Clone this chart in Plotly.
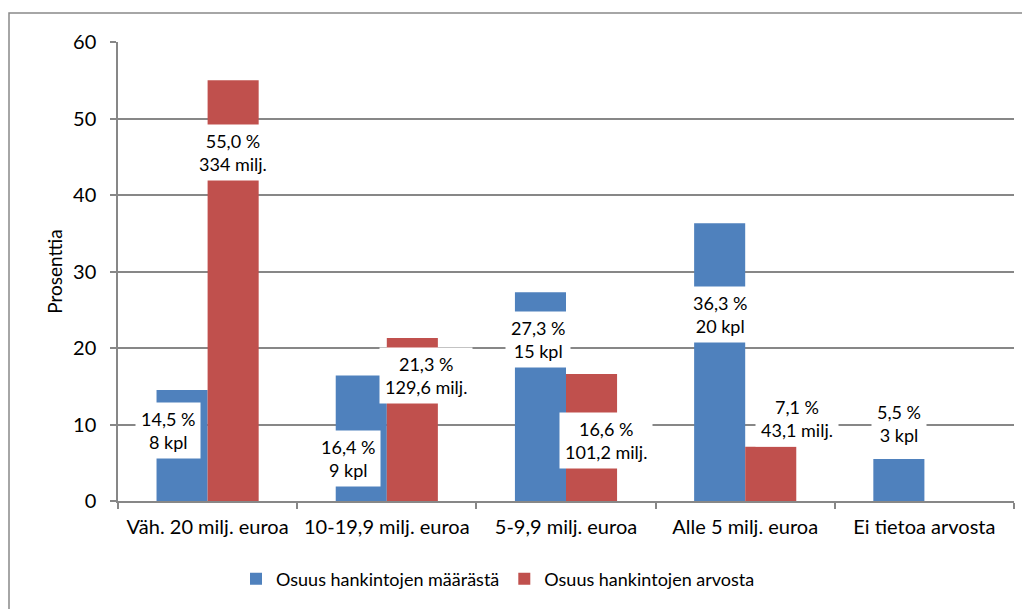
import plotly.graph_objects as go

categories = ["Väh. 20 milj. euroa", "10-19,9 milj. euroa", "5-9,9 milj. euroa",
              "Alle 5 milj. euroa", "Ei tietoa arvosta"]
count_share = [14.5, 16.4, 27.3, 36.3, 5.5]
value_share = [55.0, 21.3, 16.6, 7.1, None]
count_labels = ["14,5 %<br>8 kpl", "16,4 %<br>9 kpl", "27,3 %<br>15 kpl",
                "36,3 %<br>20 kpl", "5,5 %<br>3 kpl"]
value_labels = ["55,0 %<br>334 milj.", "21,3 %<br>129,6 milj.", "16,6 %<br>101,2 milj.",
                "7,1 %<br>43,1 milj.", None]
series_names = ["Osuus hankintojen määrästä", "Osuus hankintojen arvosta"]

# label placement (manually dragged in the original): y in data units, x shift in px
count_label_y = [9.28, 5.62, 21.05, 24.44, 10.07]
count_label_dx = [-14, -13, -2, 0, 0]
value_label_y = [45.62, 16.41, 7.97, 10.78, None]
value_label_dx = [0, 14, 14, 26, 0]

BLUE = "#4F81BD"
RED = "#C0504D"
GRID = "#878787"
FONT = "Lato"

OFF = 8  # page body margin
W, H = 1030 - OFF, 609 - OFF
L, R, T, B = 118 - OFF, 16, 42 - OFF, 108

fig = go.Figure()
fig.add_trace(go.Bar(x=categories, y=count_share, name=series_names[0],
                     marker=dict(color=BLUE, line=dict(width=0))))
fig.add_trace(go.Bar(x=categories, y=value_share, name=series_names[1],
                     marker=dict(color=RED, line=dict(width=0))))

bargap = 0.43
half = (1 - bargap) / 4  # center offset of each bar within group

annotations = []
for i in range(len(categories)):
    if count_labels[i]:
        annotations.append(dict(x=i - half, y=count_label_y[i], xref="x", yref="y",
                                text=count_labels[i], showarrow=False, xshift=count_label_dx[i],
                                bgcolor="white", borderpad=5,
                                font=dict(family=FONT, size=18, color="black")))
    if value_labels[i]:
        annotations.append(dict(x=i + half, y=value_label_y[i], xref="x", yref="y",
                                text=value_labels[i], showarrow=False, xshift=value_label_dx[i],
                                bgcolor="white", borderpad=5,
                                font=dict(family=FONT, size=18, color="black")))

pw = W - L - R
ph = H - T - B
frame = dict(type="rect", xref="paper", yref="paper",
             x0=(9 - OFF - L) / pw, x1=(W + 20 - L) / pw,
             y0=(H - B - (H + 20)) / ph, y1=(H - B - (13 - OFF)) / ph,
             line=dict(color="#898989", width=1.5), fillcolor="rgba(0,0,0,0)", layer="below")

# legend centre at page x ~ 498, y ~ 579
fig.update_layout(
    width=W, height=H,
    margin=dict(l=L, r=R, t=T, b=B, autoexpand=False),
    paper_bgcolor="white", plot_bgcolor="white",
    barmode="group", bargap=bargap, bargroupgap=0,
    font=dict(family=FONT, size=17, color="black"),
    showlegend=True,
    legend=dict(orientation="h", x=(498 - 118) / pw, xanchor="center",
                y=(501 - 579) / ph, yanchor="middle",
                font=dict(family=FONT, size=18, color="black"), itemwidth=30,
                bgcolor="rgba(0,0,0,0)"),
    xaxis=dict(showline=True, linecolor=GRID, linewidth=1.5, ticks="outside",
               tickson="boundaries", ticklen=6, tickcolor=GRID, tickwidth=1.5,
               ticklabelstandoff=7,
               showgrid=False, tickfont=dict(family=FONT, size=20, color="black")),
    yaxis=dict(range=[0, 60], dtick=10, showline=True, linecolor=GRID, linewidth=1.5,
               ticks="outside", ticklen=6, tickcolor=GRID, tickwidth=1.5,
               showgrid=True, gridcolor=GRID, gridwidth=1.5, zeroline=False,
               ticklabelstandoff=10,
               tickfont=dict(family=FONT, size=20, color="black"),
               title=dict(text="Prosenttia", standoff=5,
                          font=dict(family=FONT, size=19, color="black"))),
    annotations=annotations,
    shapes=[frame],
)

fig.write_html("out.html")
